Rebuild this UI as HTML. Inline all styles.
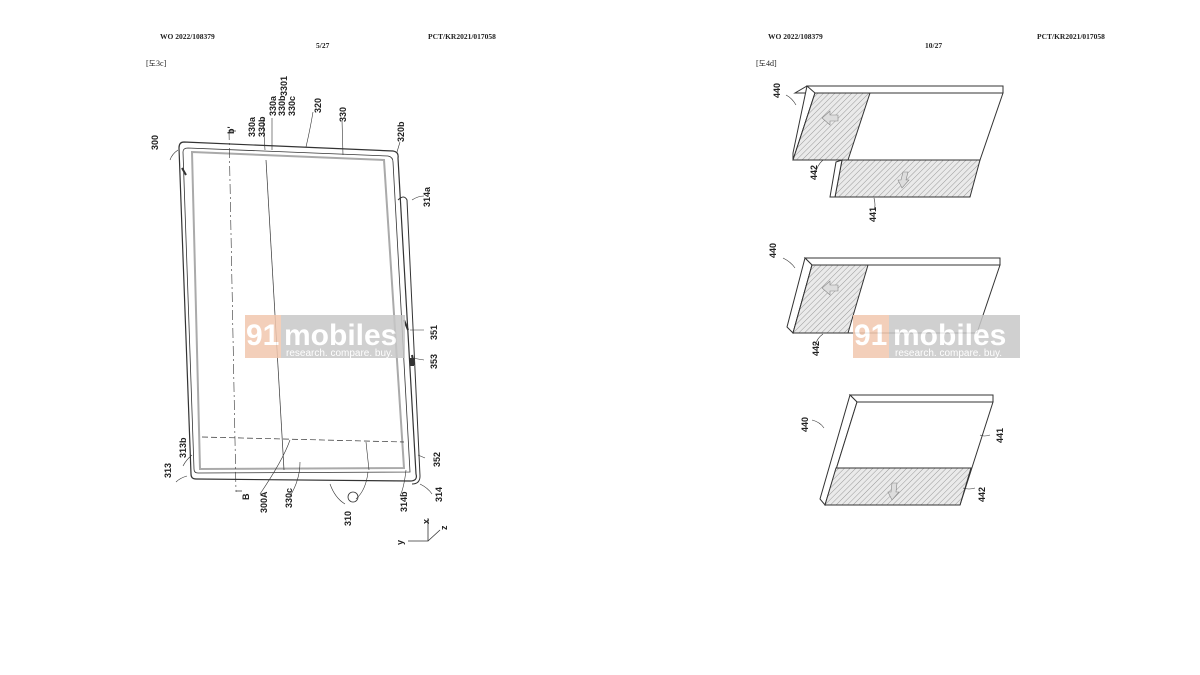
<!DOCTYPE html>
<html><head><meta charset="utf-8"><style>
html,body{margin:0;padding:0;background:#fff;}
svg{display:block}
.hd{font-family:"Liberation Serif",serif;fill:#222}
.l{font-family:"Liberation Sans",sans-serif;font-size:9px;font-weight:bold;fill:#222}
.wm{font-family:"Liberation Sans",sans-serif;font-weight:bold;fill:#fff}
</style></head><body>
<svg width="1200" height="675" viewBox="0 0 1200 675" xmlns="http://www.w3.org/2000/svg">
<defs>
<pattern id="h" width="4" height="4" patternUnits="userSpaceOnUse" patternTransform="rotate(45)">
<rect width="4" height="4" fill="#eaeaea"/><line x1="0" y1="0" x2="0" y2="4" stroke="#9a9a9a" stroke-width="1"/>
</pattern>
</defs>
<rect width="1200" height="675" fill="#fff"/>
<g font-size="7.5" font-weight="bold" class="hd">
<text class="hd" x="160" y="39">WO 2022/108379</text>
<text class="hd" x="428" y="39">PCT/KR2021/017058</text>
<text class="hd" x="316" y="48">5/27</text>
<text class="hd" x="768" y="39">WO 2022/108379</text>
<text class="hd" x="1037" y="39">PCT/KR2021/017058</text>
<text class="hd" x="925" y="48">10/27</text>
<text class="hd" x="146" y="66" font-weight="normal" font-size="8">[도3c]</text>
<text class="hd" x="756" y="66" font-weight="normal" font-size="8">[도4d]</text>
</g>
<!-- left device -->
<g fill="none" stroke="#333" stroke-width="1.2">
<path d="M184,142 L393,151 Q399,152 398,158 L416,474 Q418,481 410,481 L196,479 Q191,479 191,474 L179,148 Q179,142 184,142Z"/>
<path d="M188,148 L388,156 Q393,157 393,162 L410,472 L198,473 Q194,473 194,469 L183,152 Q183,148 188,148Z" stroke-width="0.8"/>
<path d="M192,152 L384,160 L404,468 L200,469 Z" stroke="#aaa" stroke-width="2"/>
<path d="M398,200 Q404,194 407,200 L420,476 Q420,484 412,484" stroke-width="1"/>
<path d="M202,437 L404,442" stroke-dasharray="6,3" stroke-width="0.7"/>
<path d="M366,442 L369,470" stroke-width="0.6"/>
<path d="M266,160 L284,470" stroke-width="0.7"/>
<path d="M229,130 L236,492" stroke-dasharray="10,3,2,3" stroke-width="0.6"/>
<path d="M229,131 L236,131 M236,491 L242,491" stroke-width="0.8"/>
<path d="M182,168 L186,175 M404,320 L408,330 M412,355 L414,365" stroke-width="2"/>
<path d="M178,150 Q172,154 170,160" stroke-width="0.6"/>
<path d="M263,117 L265,150 M272,118 L272,150 M313,112 Q310,130 306,147 M342,120 L343,155 M400,142 L397,152" stroke-width="0.6"/>
<path d="M412,200 Q418,196 424,196 M410,330 L424,330 M412,358 L424,360 M418,455 L425,458 M420,484 Q428,488 432,494 M192,455 Q186,460 183,466 M187,476 Q180,478 176,482 M290,440 Q283,460 260,494 M300,462 Q300,480 290,496 M330,484 Q335,498 345,504 M356,499 Q366,490 368,472 M406,470 Q404,488 400,496" stroke-width="0.6"/>
<path d="M428,518 L428,541 L408,541 M428,541 L440,530" stroke-width="0.8"/>
</g>
<g fill="#333"><circle cx="353" cy="497" r="5" fill="none" stroke="#333" stroke-width="0.8"/>
<rect x="410" y="358" width="4" height="8"/></g>
<g class="l">
<text class="l" transform="translate(158,150) rotate(-90)">300</text>
<text class="l" transform="translate(255,137) rotate(-90)">330a</text>
<text class="l" transform="translate(265,137) rotate(-90)">330b</text>
<text class="l" transform="translate(276,116) rotate(-90)">330a</text>
<text class="l" transform="translate(285,116) rotate(-90)">330b</text>
<text class="l" transform="translate(295,116) rotate(-90)">330c</text>
<text class="l" transform="translate(287,96) rotate(-90)">3301</text>
<text class="l" transform="translate(321,113) rotate(-90)">320</text>
<text class="l" transform="translate(346,122) rotate(-90)">330</text>
<text class="l" transform="translate(404,142) rotate(-90)">320b</text>
<text class="l" transform="translate(430,207) rotate(-90)">314a</text>
<text class="l" transform="translate(437,340) rotate(-90)">351</text>
<text class="l" transform="translate(437,369) rotate(-90)">353</text>
<text class="l" transform="translate(440,467) rotate(-90)">352</text>
<text class="l" transform="translate(442,502) rotate(-90)">314</text>
<text class="l" transform="translate(407,512) rotate(-90)">314b</text>
<text class="l" transform="translate(351,526) rotate(-90)">310</text>
<text class="l" transform="translate(292,508) rotate(-90)">330c</text>
<text class="l" transform="translate(267,513) rotate(-90)">300A</text>
<text class="l" transform="translate(171,478) rotate(-90)">313</text>
<text class="l" transform="translate(186,458) rotate(-90)">313b</text>
<text class="l" transform="translate(234,134) rotate(-90)">b'</text>
<text class="l" transform="translate(249,500) rotate(-90)">B</text>
<text class="l" transform="translate(403,545) rotate(-90)">y</text>
<text class="l" transform="translate(429,524) rotate(-90)">x</text>
<text class="l" transform="translate(447,530) rotate(-90)">z</text>
</g>
<!-- right panels -->
<g stroke="#333" stroke-width="1" fill="#fff">
<path d="M807,86 L1003,86 L1003,93 L995,93 L795,93 Z"/>
<path d="M807,86 L815,93 L793,160 L793,153 Z"/>
<path d="M815,93 L1003,93 L980,160 L793,160Z"/>
<path d="M815,93 L870,93 L848,160 L793,160Z" fill="url(#h)"/>
<path d="M842,160 L980,160 L970,197 L835,197 Z" fill="url(#h)"/>
<path d="M836,162 L842,160 L835,197 L830,197 Z"/>
<path d="M805,258 L1000,258 L1000,265 L812,265Z"/>
<path d="M805,258 L812,265 L793,333 L787,327Z"/>
<path d="M812,265 L1000,265 L977,333 L793,333Z"/>
<path d="M812,265 L868,265 L848,333 L793,333Z" fill="url(#h)"/>
<path d="M850,395 L993,395 L993,402 L857,402Z"/>
<path d="M850,395 L857,402 L825,505 L820,499Z"/>
<path d="M857,402 L993,402 L960,505 L825,505Z"/>
<path d="M836,468 L971,468 L960,505 L825,505Z" fill="url(#h)"/>
</g>
<g fill="#ddd" stroke="#888" stroke-width="0.6">
<path d="M822,118 l8,-7 v4 h8 v6 h-8 v4z"/>
<path d="M822,288 l8,-7 v4 h8 v6 h-8 v4z"/>
<path d="M902,188 l-4,-8 h3 l2,-8 h5 l-2,8 h3z"/>
<path d="M892,500 l-4,-8 h3 l1,-9 h5 l-1,9 h3z"/>
</g>
<g>
<text class="l" transform="translate(780,98) rotate(-90)">440</text>
<text class="l" transform="translate(817,180) rotate(-90)">442</text>
<text class="l" transform="translate(876,222) rotate(-90)">441</text>
<text class="l" transform="translate(776,258) rotate(-90)">440</text>
<text class="l" transform="translate(819,356) rotate(-90)">442</text>
<text class="l" transform="translate(808,432) rotate(-90)">440</text>
<text class="l" transform="translate(1003,443) rotate(-90)">441</text>
<text class="l" transform="translate(985,502) rotate(-90)">442</text>
</g>
<g fill="none" stroke="#333" stroke-width="0.6">
<path d="M786,95 q6,3 10,10 M815,175 q2,-10 8,-15 M874,198 q2,8 0,12 M783,258 q8,4 12,10 M815,346 q2,-8 8,-12 M812,420 q8,2 12,8 M990,435 q-6,2 -10,0 M975,488 q-6,2 -12,0"/>
</g>
<!-- watermarks -->
<g opacity="0.85">
<rect x="245" y="315" width="36" height="43" fill="#f2c7ae"/>
<rect x="281" y="315" width="124" height="43" fill="#c8c8c8"/>
<text class="wm" x="246" y="345" font-size="30">91</text>
<text class="wm" x="284" y="345" font-size="30">mobiles</text>
<text class="wm" x="286" y="356" font-size="10" style="font-weight:normal">research. compare. buy.</text>
<rect x="853" y="315" width="36" height="43" fill="#f2c7ae"/>
<rect x="889" y="315" width="131" height="43" fill="#c8c8c8"/>
<text class="wm" x="854" y="345" font-size="30">91</text>
<text class="wm" x="893" y="345" font-size="30">mobiles</text>
<text class="wm" x="895" y="356" font-size="10" style="font-weight:normal">research. compare. buy.</text>
</g>
</svg>
</body></html>
